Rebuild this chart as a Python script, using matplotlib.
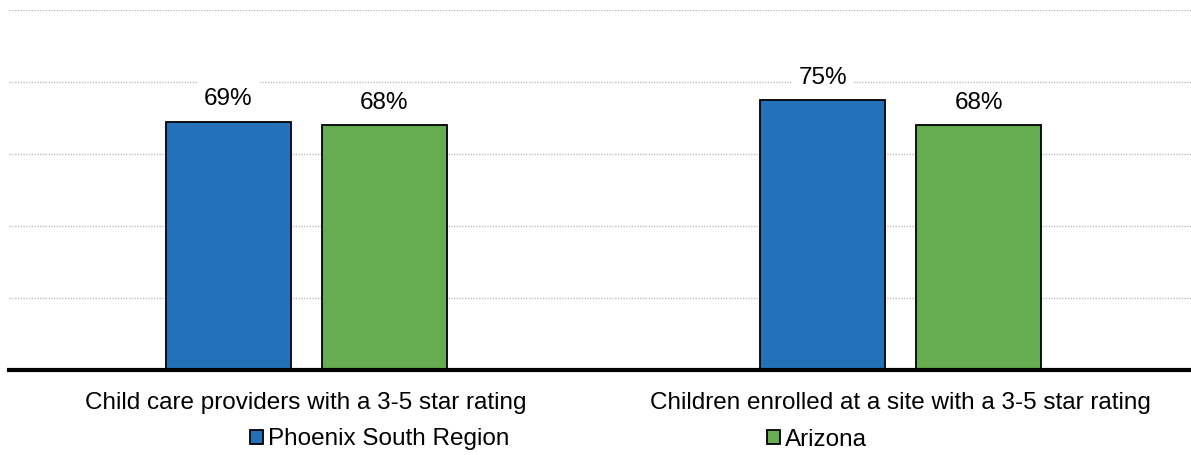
import matplotlib.pyplot as plt
import numpy as np

# data
categories = ['Child care providers with a 3-5 star rating',
              'Children enrolled at a site with a 3-5 star rating']
series_names = ['Phoenix South Region', 'Arizona']
phoenix_south = [69, 75]
arizona = [68, 68]

plt.rcParams['font.family'] = ['Liberation Sans', 'DejaVu Sans']

fig = plt.figure(figsize=(11.91, 4.55), dpi=100)
# axis runs a bit past the right edge in the reference
ax = fig.add_axes([9 / 1191, 85 / 455, 1189 / 1191, 360 / 455])

x = np.arange(len(categories))
w = 0.21
off = 0.131
colors = ['#2271B9', '#66AD51']

ax.bar(x - off, phoenix_south, w, color=colors[0], edgecolor='black',
       linewidth=1.3, label=series_names[0], zorder=3)
ax.bar(x + off, arizona, w, color=colors[1], edgecolor='black',
       linewidth=1.3, label=series_names[1], zorder=3)

#value labels with white boxes that cut the gridlines
for xs, vals in [(x - off, phoenix_south), (x + off, arizona)]:
    for xi, v in zip(xs, vals):
        ax.text(xi, v + 6.2, '{0}%'.format(v), ha='center', va='center',
                fontsize=17.5, zorder=4,
                bbox=dict(facecolor='white', edgecolor='none', pad=5))

ax.set_xlim(-0.5, 1.5)
ax.set_ylim(0, 100)
ax.set_yticks([0, 20, 40, 60, 80, 100])
ax.set_yticklabels([])
ax.yaxis.grid(True, color='#BDBDBD', linestyle=(0, (1, 1)), linewidth=1)
ax.set_axisbelow(True)
ax.tick_params(axis='y', length=0)
ax.tick_params(axis='x', length=0, pad=15.5, labelsize=17.5)
ax.set_xticks(x)
ax.set_xticklabels(categories)

for s in ['left', 'right', 'top']:
    ax.spines[s].set_visible(False)
ax.spines['bottom'].set_linewidth(3)
ax.spines['bottom'].set_zorder(5)

fig.legend(loc='center left', bbox_to_anchor=(250 / 1191, 15.5 / 455), ncol=2,
           frameon=False, fontsize=17.5, handlelength=0.53, handleheight=0.53,
           handletextpad=0.2, columnspacing=10.6, borderaxespad=0, borderpad=0)

fig.savefig('out.png', dpi=100)
